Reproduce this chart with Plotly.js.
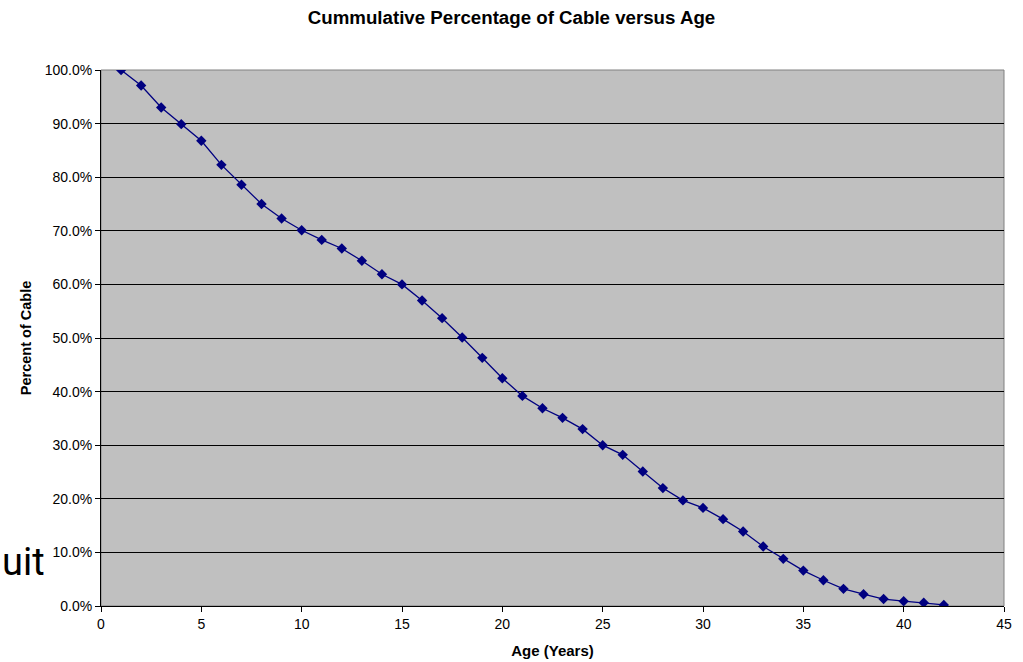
<!DOCTYPE html>
<html>
<head>
<meta charset="utf-8">
<script src="https://cdn.plot.ly/plotly-3.0.1.min.js"></script>
<style>html,body{margin:0;padding:0;background:#fff;}#chart{width:1023px;height:662px;}</style>
</head>
<body>
<div id="chart"></div>
<script>
const ages = [1,2,3,4,5,6,7,8,9,10,11,12,13,14,15,16,17,18,19,20,21,22,23,24,25,26,27,28,29,30,31,32,33,34,35,36,37,38,39,40,41,42];
const percentCable = [1.000,0.971,0.930,0.899,0.868,0.823,0.786,0.750,0.723,0.701,0.683,0.667,0.644,0.619,0.600,0.570,0.537,0.501,0.463,0.425,0.392,0.369,0.351,0.330,0.300,0.282,0.251,0.220,0.197,0.183,0.162,0.139,0.111,0.088,0.066,0.048,0.032,0.022,0.013,0.009,0.006,0.002];
const chartTitle = 'Cummulative Percentage of Cable versus Age';
const xTitle = 'Age (Years)';
const yTitle = 'Percent of Cable';
const strayText = 'uit';

const font = 'Liberation Sans, Arial, sans-serif';
const trace = {
  x: ages, y: percentCable, type: 'scatter', mode: 'lines+markers',
  line: {color: '#000080', width: 1.3},
  marker: {symbol: 'diamond', size: 8, color: '#000080'},
  hoverinfo: 'x+y'
};
const layout = {
  width: 1023, height: 662,
  margin: {l: 101, r: 19, t: 70, b: 56},
  paper_bgcolor: '#ffffff', plot_bgcolor: '#c0c0c0',
  showlegend: false,
  title: {text: '<b>' + chartTitle + '</b>', font: {family: font, size: 18.7, color: '#000'}, x: 0.5, xanchor: 'center', y: 0.973, yanchor: 'middle'},
  xaxis: {
    range: [0, 45], dtick: 5, tick0: 0, showgrid: false, zeroline: false,
    showline: true, linecolor: '#000', linewidth: 1,
    ticks: 'outside', ticklen: 5, tickcolor: '#000',
    tickfont: {family: font, size: 14, color: '#000'},
    title: {text: '<b>' + xTitle + '</b>', font: {family: font, size: 15, color: '#000'}, standoff: 14}
  },
  yaxis: {
    range: [0, 1], dtick: 0.1, tick0: 0, tickformat: '.1%',
    showgrid: true, gridcolor: '#000', gridwidth: 1, zeroline: false,
    showline: true, linecolor: '#000', linewidth: 1,
    ticks: 'outside', ticklen: 5, tickcolor: '#000',
    tickfont: {family: font, size: 14, color: '#000'},
    title: {text: '<b>' + yTitle + '</b>', font: {family: font, size: 14.5, color: '#000'}, standoff: 9}
  },
  shapes: [{type: 'rect', xref: 'paper', yref: 'paper', x0: 0, x1: 1, y0: 0, y1: 1, line: {color: '#808080', width: 1}, layer: 'below'}],
  annotations: [{
    text: strayText, xref: 'paper', yref: 'paper', x: -0.1118, y: 0.082,
    xanchor: 'left', yanchor: 'middle', showarrow: false,
    font: {family: 'Roboto, sans-serif', size: 38, color: '#000'}
  }]
};
Plotly.newPlot('chart', [trace], layout, {displayModeBar: false, staticPlot: true});
</script>
</body>
</html>
